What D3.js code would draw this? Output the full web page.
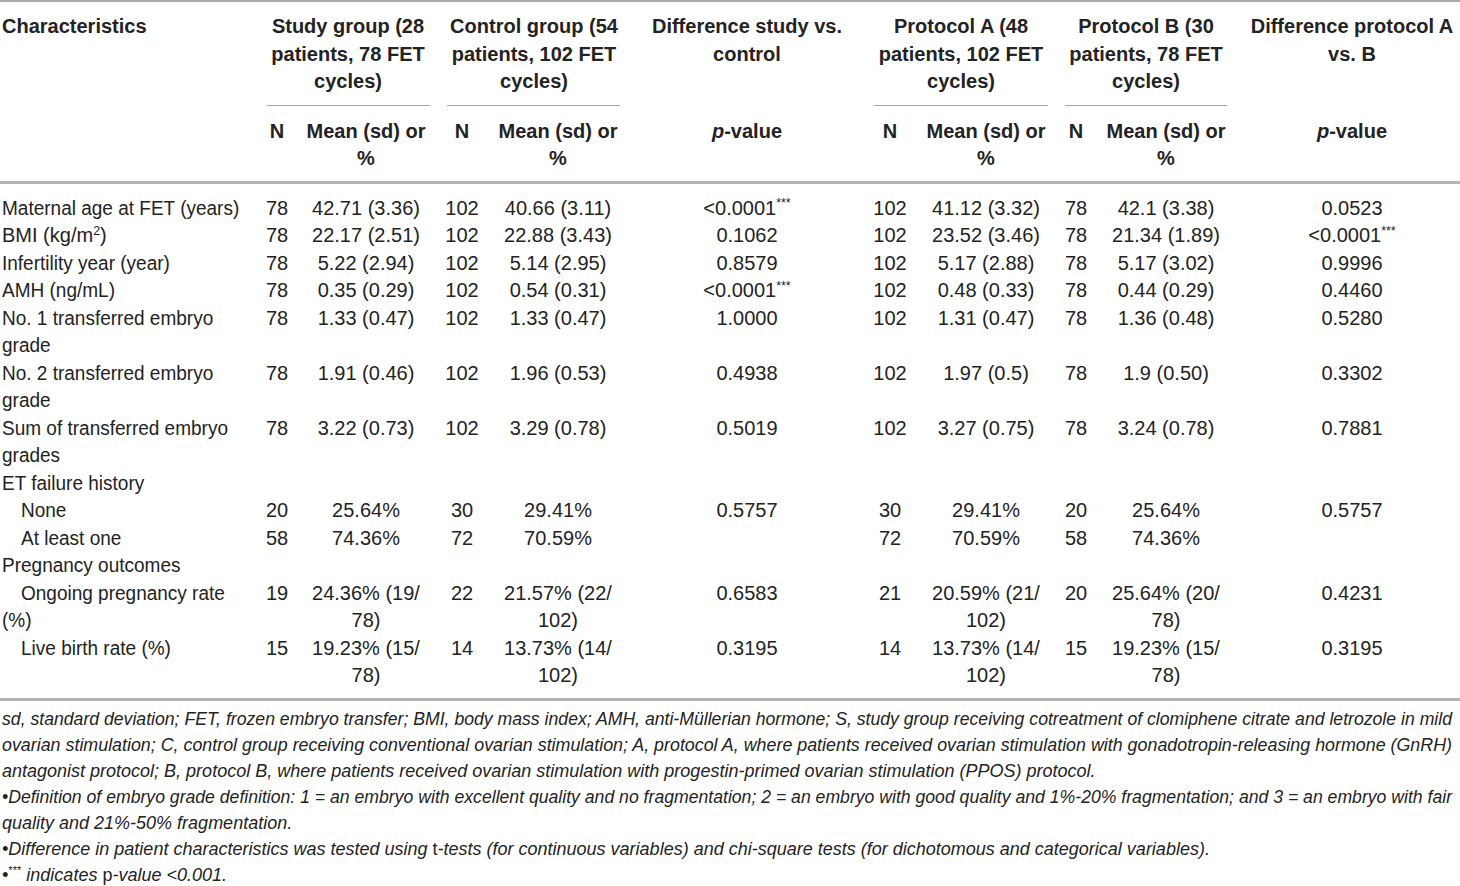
<!DOCTYPE html>
<html>
<head>
<meta charset="utf-8">
<script src="https://cdn.jsdelivr.net/npm/d3@7/dist/d3.min.js"></script>
<style>
  html, body { margin: 0; padding: 0; background: #fff; }
  svg { display: block; }
  text { font-family: "Liberation Sans", Arial, Helvetica, sans-serif; fill: #232323; }
</style>
</head>
<body>
<svg id="chart" width="1460" height="886"></svg>
<script>
// ---------------- DATA ----------------
const groupHeaders = [
  { key: "label", lines: ["Characteristics"] },
  { key: "study", lines: ["Study group (28", "patients, 78 FET", "cycles)"] },
  { key: "control", lines: ["Control group (54", "patients, 102 FET", "cycles)"] },
  { key: "pStudy", lines: ["Difference study vs.", "control"] },
  { key: "protoA", lines: ["Protocol A (48", "patients, 102 FET", "cycles)"] },
  { key: "protoB", lines: ["Protocol B (30", "patients, 78 FET", "cycles)"] },
  { key: "pProto", lines: ["Difference protocol A", "vs. B"] }
];

const subHeaders = [
  { key: "studyN", lines: ["N"] },
  { key: "studyMean", lines: ["Mean (sd) or", "%"] },
  { key: "controlN", lines: ["N"] },
  { key: "controlMean", lines: ["Mean (sd) or", "%"] },
  { key: "pStudy", lines: ["[p]-value"] },
  { key: "protoAN", lines: ["N"] },
  { key: "protoAMean", lines: ["Mean (sd) or", "%"] },
  { key: "protoBN", lines: ["N"] },
  { key: "protoBMean", lines: ["Mean (sd) or", "%"] },
  { key: "pProto", lines: ["[p]-value"] }
];

const rowLabels = [
  "Maternal age at FET (years)",
  "BMI (kg/m{2})",
  "Infertility year (year)",
  "AMH (ng/mL)",
  "No. 1 transferred embryo|grade",
  "No. 2 transferred embryo|grade",
  "Sum of transferred embryo|grades",
  "ET failure history",
  "None",
  "At least one",
  "Pregnancy outcomes",
  "Ongoing pregnancy rate|(%)",
  "Live birth rate (%)"
];
const rowIndent = [0, 0, 0, 0, 0, 0, 0, 0, 1, 1, 0, 1, 1];

const studyN = ["78", "78", "78", "78", "78", "78", "78", "", "20", "58", "", "19", "15"];
const studyMean = ["42.71 (3.36)", "22.17 (2.51)", "5.22 (2.94)", "0.35 (0.29)", "1.33 (0.47)",
  "1.91 (0.46)", "3.22 (0.73)", "", "25.64%", "74.36%", "", "24.36% (19/|78)", "19.23% (15/|78)"];
const controlN = ["102", "102", "102", "102", "102", "102", "102", "", "30", "72", "", "22", "14"];
const controlMean = ["40.66 (3.11)", "22.88 (3.43)", "5.14 (2.95)", "0.54 (0.31)", "1.33 (0.47)",
  "1.96 (0.53)", "3.29 (0.78)", "", "29.41%", "70.59%", "", "21.57% (22/|102)", "13.73% (14/|102)"];
const pStudy = ["<0.0001{***}", "0.1062", "0.8579", "<0.0001{***}", "1.0000", "0.4938", "0.5019",
  "", "0.5757", "", "", "0.6583", "0.3195"];
const protoAN = ["102", "102", "102", "102", "102", "102", "102", "", "30", "72", "", "21", "14"];
const protoAMean = ["41.12 (3.32)", "23.52 (3.46)", "5.17 (2.88)", "0.48 (0.33)", "1.31 (0.47)",
  "1.97 (0.5)", "3.27 (0.75)", "", "29.41%", "70.59%", "", "20.59% (21/|102)", "13.73% (14/|102)"];
const protoBN = ["78", "78", "78", "78", "78", "78", "78", "", "20", "58", "", "20", "15"];
const protoBMean = ["42.1 (3.38)", "21.34 (1.89)", "5.17 (3.02)", "0.44 (0.29)", "1.36 (0.48)",
  "1.9 (0.50)", "3.24 (0.78)", "", "25.64%", "74.36%", "", "25.64% (20/|78)", "19.23% (15/|78)"];
const pProto = ["0.0523", "<0.0001{***}", "0.9996", "0.4460", "0.5280", "0.3302", "0.7881",
  "", "0.5757", "", "", "0.4231", "0.3195"];

// footnotes: [x] = upright text inside italic line, {x} = superscript
const footnotes = [
  "sd, standard deviation; FET, frozen embryo transfer; BMI, body mass index; AMH, anti-Müllerian hormone; S, study group receiving cotreatment of clomiphene citrate and letrozole in mild",
  "ovarian stimulation; C, control group receiving conventional ovarian stimulation; A, protocol A, where patients received ovarian stimulation with gonadotropin-releasing hormone (GnRH)",
  "antagonist protocol; B, protocol B, where patients received ovarian stimulation with progestin-primed ovarian stimulation (PPOS) protocol.",
  "•Definition of embryo grade definition: 1 = an embryo with excellent quality and no fragmentation; 2 = an embryo with good quality and 1%-20% fragmentation; and 3 = an embryo with fair",
  "quality and 21%-50% fragmentation.",
  "•Difference in patient characteristics was tested using [t]-tests (for continuous variables) and chi-square tests (for dichotomous and categorical variables).",
  "•{***} indicates [p]-value <0.001."
];
const footJustified = [true, true, false, true, false, false, false];

// ---------------- LAYOUT ----------------
const W = 1460, H = 886;
const svg = d3.select("#chart");
svg.append("rect").attr("width", W).attr("height", H).attr("fill", "#fff");

const colX = d3.scaleOrdinal()
  .domain(["label", "studyN", "studyMean", "controlN", "controlMean", "pStudy",
           "protoAN", "protoAMean", "protoBN", "protoBMean", "pProto",
           "study", "control", "protoA", "protoB"])
  .range([2, 277, 366, 462, 558, 747, 890, 986, 1076, 1166, 1352,
          348, 534, 961, 1146]);

const groupSpans = { study: [267, 430], control: [447, 620], protoA: [874, 1048], protoB: [1065, 1227] };

const headerY = d3.scaleLinear().domain([0, 1]).range([26, 53.5]);
const subY = d3.scaleLinear().domain([0, 1]).range([131, 158]);
const bodyY = d3.scaleLinear().domain([0, 17]).range([208, 675]);
const footY = d3.scaleLinear().domain([0, 6]).range([719, 875]);

const FS = 20, FSB = 20, FSF = 18;

function writeRich(sel, str, opts) {
  const re = /(\{[^}]*\}|\[[^\]]*\])/g;
  const parts = str.split(re).filter(s => s.length);
  let supActive = false;
  parts.forEach(p => {
    if (p[0] === "{") {
      sel.append("tspan").text(p.slice(1, -1))
        .attr("font-size", opts.size * 0.62)
        .attr("dy", -opts.size * 0.38)
        .attr("font-style", opts.italic ? "normal" : null);
      supActive = true;
    } else if (p[0] === "[") {
      const t = sel.append("tspan").text(p.slice(1, -1))
        .attr("font-style", opts.italic ? "normal" : "italic");
      if (supActive) { t.attr("dy", opts.size * 0.38); supActive = false; }
    } else {
      const t = sel.append("tspan").text(p);
      if (supActive) { t.attr("dy", opts.size * 0.38); supActive = false; }
    }
  });
}

// ---------------- RULES ----------------
const rules = svg.append("g").attr("stroke", "#a8a8a8");
rules.append("line").attr("x1", 0).attr("x2", W).attr("y1", 1).attr("y2", 1).attr("stroke-width", 2);
rules.append("line").attr("x1", 0).attr("x2", W).attr("y1", 182.5).attr("y2", 182.5).attr("stroke-width", 3).attr("stroke", "#b4b4b4");
rules.append("line").attr("x1", 0).attr("x2", W).attr("y1", 699.5).attr("y2", 699.5).attr("stroke-width", 3).attr("stroke", "#b4b4b4");
rules.selectAll("line.grp").data(Object.entries(groupSpans)).join("line")
  .attr("class", "grp")
  .attr("x1", d => d[1][0]).attr("x2", d => d[1][1])
  .attr("y1", 105.5).attr("y2", 105.5).attr("stroke-width", 1.2);

// ---------------- HEADERS ----------------
const hdr = svg.append("g").attr("font-weight", "bold").attr("font-size", FSB);
groupHeaders.forEach(g => {
  g.lines.forEach((ln, i) => {
    const t = hdr.append("text")
      .attr("x", colX(g.key))
      .attr("y", headerY(i))
      .attr("dy", "0.35em")
      .attr("text-anchor", g.key === "label" ? "start" : "middle");
    writeRich(t, ln, { size: FSB, italic: false });
  });
});
subHeaders.forEach(g => {
  g.lines.forEach((ln, i) => {
    const t = hdr.append("text")
      .attr("x", colX(g.key))
      .attr("y", subY(i))
      .attr("dy", "0.35em")
      .attr("text-anchor", "middle");
    writeRich(t, ln, { size: FSB, italic: false });
  });
});

// ---------------- BODY ----------------
const body = svg.append("g").attr("font-size", FS);
const valueCols = { studyN, studyMean, controlN, controlMean, pStudy, protoAN, protoAMean, protoBN, protoBMean, pProto };

let lineIdx = 0;
rowLabels.forEach((lab, r) => {
  const labLines = lab.split("|");
  let maxLines = labLines.length;
  labLines.forEach((ln, i) => {
    const t = body.append("text")
      .attr("x", colX("label") + (i === 0 && rowIndent[r] ? 19 : 0))
      .attr("y", bodyY(lineIdx + i))
      .attr("dy", "0.35em");
    writeRich(t, ln, { size: FS, italic: false });
    if (ln.indexOf("{") < 0) {
      const w = t.node().getComputedTextLength();
      t.attr("textLength", w * 0.95).attr("lengthAdjust", "spacingAndGlyphs");
    }
  });
  Object.entries(valueCols).forEach(([key, arr]) => {
    const v = arr[r];
    if (!v) return;
    const vl = v.split("|");
    maxLines = Math.max(maxLines, vl.length);
    vl.forEach((ln, i) => {
      const t = body.append("text")
        .attr("x", colX(key))
        .attr("y", bodyY(lineIdx + i))
        .attr("dy", "0.35em")
        .attr("text-anchor", "middle");
      writeRich(t, ln, { size: FS, italic: false });
    });
  });
  lineIdx += maxLines;
});

// ---------------- FOOTNOTES ----------------
const foot = svg.append("g").attr("font-size", FSF).attr("font-style", "italic");
const target = W - 10;
footnotes.forEach((ln, i) => {
  const t = foot.append("text").attr("x", 2).attr("y", footY(i)).attr("dy", "0.35em");
  writeRich(t, ln, { size: FSF, italic: true });
  if (footJustified[i]) {
    const w = t.node().getComputedTextLength();
    if (w > target) {
      t.attr("font-size", FSF * target / w);
    }
    t.attr("textLength", target).attr("lengthAdjust", "spacingAndGlyphs");
  }
});
</script>
</body>
</html>
